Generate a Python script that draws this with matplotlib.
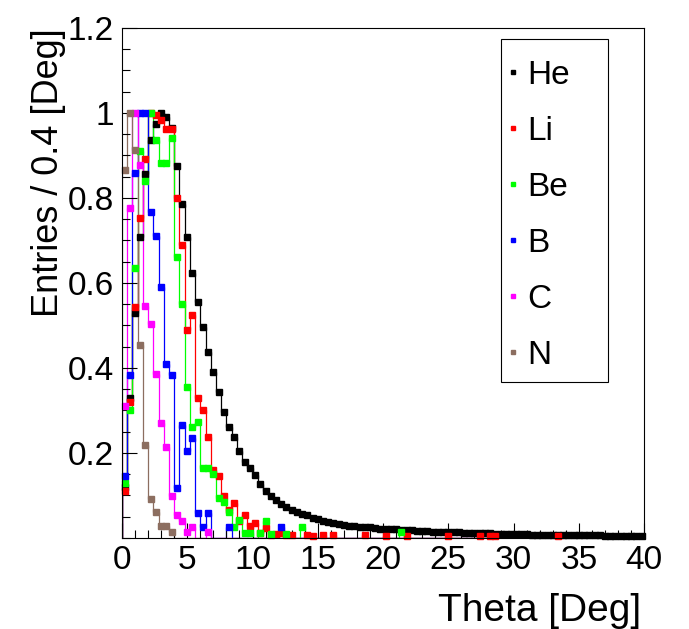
import numpy as np
import matplotlib.pyplot as plt
from matplotlib.ticker import MultipleLocator, FixedLocator, FixedFormatter
from matplotlib.lines import Line2D
from matplotlib.patches import Rectangle

plt.rcParams['font.family'] = ['Liberation Sans', 'DejaVu Sans']

# binning: 100 bins of 0.4 deg from 0 to 40
n_bins = 100
bin_width = 0.4
edges = np.arange(n_bins + 1) * bin_width
centers = edges[:-1] + bin_width / 2

# normalised entries per bin
he = [0.12, 0.33, 0.53, 0.708, 0.856, 0.937, 0.975, 1.0, 0.99, 0.965,
      0.875, 0.786, 0.708, 0.623, 0.556, 0.496, 0.438, 0.39, 0.343, 0.296,
      0.261, 0.238, 0.205, 0.179, 0.165, 0.148, 0.127, 0.111, 0.099, 0.089,
      0.080, 0.073, 0.067, 0.061, 0.057, 0.053, 0.048, 0.044, 0.040, 0.037,
      0.035, 0.033, 0.031, 0.029, 0.028, 0.027, 0.026, 0.025, 0.024, 0.022,
      0.021, 0.020, 0.020, 0.019, 0.018, 0.018, 0.017, 0.016, 0.016, 0.015,
      0.015, 0.014, 0.014, 0.013, 0.013, 0.012, 0.012, 0.012, 0.011, 0.011,
      0.011, 0.010, 0.010, 0.010, 0.009, 0.009, 0.009, 0.009, 0.008, 0.008,
      0.008, 0.008, 0.007, 0.007, 0.007, 0.007, 0.007, 0.006, 0.006, 0.006,
      0.006, 0.006, 0.005, 0.005, 0.005, 0.005, 0.005, 0.005, 0.004, 0.004]
li = [0.11, 0.32, 0.543, 0.753, 0.892, 1.0, 0.995, 0.983, 0.962, 0.962,
      0.80, 0.69, 0.49, 0.525, 0.33, 0.30, 0.238, 0.16, 0.145, 0.098,
      0.066, 0.082, 0.04, 0.054, 0.028, 0.035, 0.012, 0.023, 0.008, 0.010,
      0.012, 0.006, 0.006, 0, 0, 0.008, 0.005, 0, 0.006, 0,
      0.007, 0, 0, 0, 0, 0, 0.006, 0, 0, 0,
      0.005, 0, 0, 0, 0.005, 0, 0, 0, 0, 0,
      0, 0, 0.005, 0, 0, 0, 0, 0, 0.005, 0,
      0.005, 0.005, 0, 0, 0, 0, 0, 0, 0, 0,
      0, 0, 0, 0.005]
be = [0.13, 0.30, 0.635, 0.91, 0.84, 1.0, 0.937, 0.883, 0.883, 0.94,
      0.66, 0.55, 0.356, 0.262, 0.273, 0.164, 0.164, 0.15, 0.094, 0.085,
      0.06, 0.027, 0.042, 0.012, 0.012, 0, 0.012, 0.04, 0.01, 0,
      0, 0.01, 0, 0, 0.027, 0, 0, 0, 0, 0,
      0, 0, 0, 0, 0, 0, 0, 0, 0, 0,
      0, 0, 0, 0.014]
b = [0.146, 0.384, 0.858, 1.0, 1.0, 0.767, 0.71, 0.59, 0.41, 0.383,
     0.118, 0.265, 0.205, 0.236, 0.059, 0.027, 0.059, 0, 0, 0,
     0.027, 0, 0, 0, 0, 0, 0, 0, 0, 0,
     0.027]
c = [0.31, 0.776, 1.0, 0.878, 0.546, 0.503, 0.387, 0.27, 0.214, 0.098,
     0.055, 0.041, 0.013, 0.026, 0, 0, 0.013]
n = [0.866, 1.0, 0.913, 0.455, 0.218, 0.092, 0.062, 0.028, 0.028, 0.014]

names = ['He', 'Li', 'Be', 'B', 'C', 'N']
series = [he, li, be, b, c, n]
colors = ['black', '#ff0000', '#00ff00', '#0000ff', '#ff00ff', '#8c6e60']


def full(v):
    v = np.asarray(v, dtype=float)
    return np.concatenate([v, np.zeros(n_bins - len(v))])


fig = plt.figure(figsize=(6.89, 6.29), dpi=100)
ax = fig.add_axes([0.177, 0.1447, 0.758, 0.8108])

for vals, col in zip(series, colors):
    v = full(vals)
    ax.stairs(v, edges, color=col, lw=0.9, baseline=0)
    m = v > 0
    ax.plot(centers[m], v[m], ls='none', marker='s', ms=5, color=col,
            mec=col, clip_on=False)

ax.set_xlim(0, 40)
ax.set_ylim(0, 1.2)

ax.xaxis.set_major_locator(MultipleLocator(5))
ax.xaxis.set_minor_locator(MultipleLocator(1))
yt = [0.2, 0.4, 0.6, 0.8, 1.0, 1.2]
ax.yaxis.set_major_locator(FixedLocator(yt))
ax.yaxis.set_major_formatter(FixedFormatter(['0.2', '0.4', '0.6', '0.8', '1', '1.2']))
ax.yaxis.set_minor_locator(MultipleLocator(0.05))

ax.tick_params(axis='both', which='both', direction='in', top=False, right=False,
               width=0.8, labelsize=24)
ax.tick_params(axis='both', which='major', length=11)
ax.tick_params(axis='both', which='minor', length=6)
ax.tick_params(axis='x', which='major', pad=5)
ax.tick_params(axis='y', which='major', pad=6)
for s in ax.spines.values():
    s.set_linewidth(0.8)

ax.set_ylabel('Entries / 0.4 [Deg]', fontsize=26, loc='top')
ax.yaxis.set_label_coords(-0.107, 1.0)
ax.set_xlabel('Theta [Deg]', fontsize=28, loc='right')
ax.xaxis.set_label_coords(0.994, -0.108)

handles = [Line2D([], [], ls='none', marker='s', ms=3.5, color=col, mec=col)
           for col in colors]
leg = ax.legend(handles, names, loc='upper left', bbox_to_anchor=(0.716, 0.957),
                frameon=False, fontsize=24, handlelength=0.4, handletextpad=0.25,
                labelspacing=0.75, borderaxespad=0, borderpad=0.3)
ax.add_patch(Rectangle((0.7255, 0.3065), 0.2056, 0.6715, transform=ax.transAxes,
                       fill=False, lw=0.8, ec='black', zorder=5))

plt.savefig('out.png', dpi=100)
